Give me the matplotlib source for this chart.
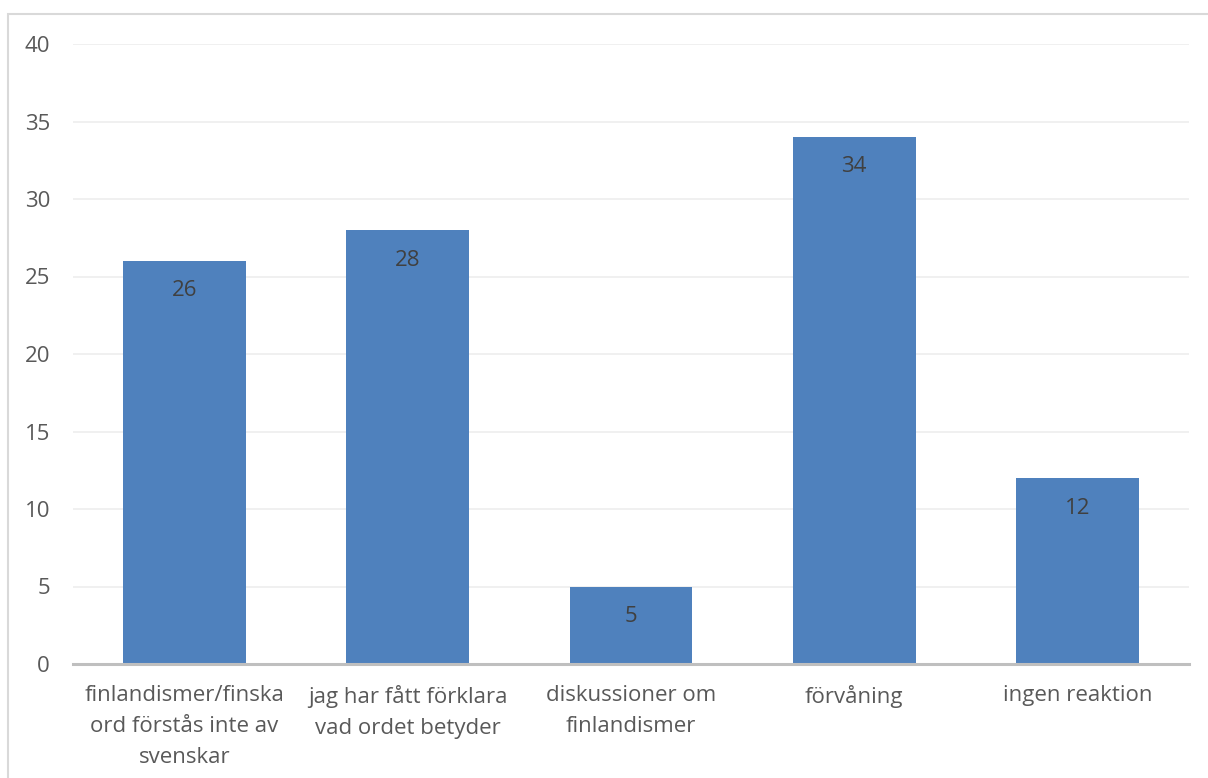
import matplotlib
matplotlib.use("Agg")
import matplotlib.pyplot as plt
from matplotlib.patches import Rectangle

categories = [
    "finlandismer/finska\nord förstås inte av\nsvenskar",
    "jag har fått förklara\nvad ordet betyder",
    "diskussioner om\nfinlandismer",
    "förvåning",
    "ingen reaktion",
]
values = [26, 28, 5, 34, 12]
y_ticks = [0, 5, 10, 15, 20, 25, 30, 35, 40]

plt.rcParams["font.family"] = ["Open Sans", "DejaVu Sans"]

W, H = 1208, 778
fig = plt.figure(figsize=(W / 100, H / 100), dpi=100)
fig.patch.set_facecolor("white")

# outer chart border (left and top visible)
fig.add_artist(Rectangle((8 / W, -0.1), 1.2, (H - 14) / H + 0.1,
                         transform=fig.transFigure, fill=False,
                         edgecolor="#D9D9D9", linewidth=1.5))

left, right = 73 / W, 1189 / W
top, bottom = 1 - 44 / H, 1 - 664 / H
ax = fig.add_axes([left, bottom, right - left, top - bottom])

x = range(len(values))
bars = ax.bar(x, values, width=0.55, color="#4F81BD", zorder=3)
ax.set_xlim(-0.5, len(values) - 0.5)
ax.set_ylim(0, 40)
ax.set_yticks(y_ticks)
ax.set_xticks(list(x))
ax.set_xticklabels(categories, fontsize=16, color="#595959", linespacing=1.62)
ax.tick_params(axis="y", labelsize=16, labelcolor="#595959", length=0, pad=16.5)
ax.tick_params(axis="x", length=0, pad=15)

ax.grid(axis="y", color="#EFEFEF", linewidth=1.3, zorder=0)
for s in ["top", "right", "left"]:
    ax.spines[s].set_visible(False)
ax.spines["bottom"].set_color("#BFBFBF")
ax.spines["bottom"].set_linewidth(2.2)
ax.spines["bottom"].set_zorder(4)

for b, v in zip(bars, values):
    ax.annotate(str(v), (b.get_x() + b.get_width() / 2, v),
                xytext=(0, -30), textcoords="offset pixels",
                ha="center", va="center", fontsize=16, color="#404040", zorder=5)

fig.savefig("out.png", dpi=100)
